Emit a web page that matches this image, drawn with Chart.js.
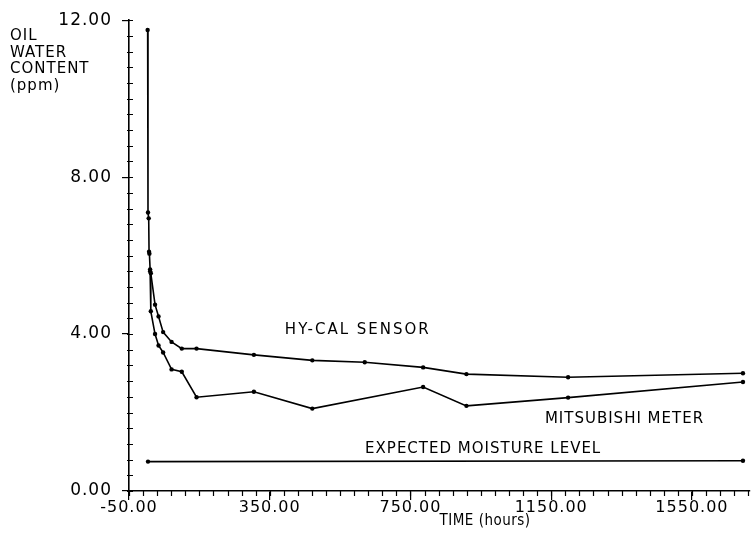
<!DOCTYPE html>
<html>
<head>
<meta charset="utf-8">
<script src="https://cdn.jsdelivr.net/npm/chart.js@4/dist/chart.umd.min.js"></script>
<style>
  html, body { margin: 0; padding: 0; background: #fff; }
  #wrap { width: 753px; height: 538px; }
</style>
</head>
<body>
<div id="wrap"><canvas id="chart" width="753" height="538"></canvas></div>
<script>
// values (hours, ppm)
const hycalHours = [3, 4, 6, 7, 8, 10, 12, 24, 34, 47, 71, 100, 142, 305, 471, 620, 786, 909, 1198, 1695];
const hycalPpm   = [11.75, 7.1, 6.95, 6.1, 6.05, 5.65, 5.55, 4.75, 4.45, 4.05, 3.8, 3.63, 3.63, 3.47, 3.33, 3.28, 3.15, 2.98, 2.9, 3.0];

const mitsuHours = [10, 12, 24, 34, 47, 71, 100, 142, 305, 471, 786, 909, 1198, 1695];
const mitsuPpm   = [5.6, 4.58, 4.0, 3.71, 3.53, 3.1, 3.04, 2.39, 2.53, 2.1, 2.65, 2.17, 2.38, 2.78];

const expectedHours = [4, 1695];
const expectedPpm   = [0.75, 0.77];

const xTicks = [-50, 350, 750, 1150, 1550];
const yTicks = [0, 4, 8, 12];
const xMinorStep = 40;
const yMinorStep = 0.4;

const seriesLabels = [
  { text: 'HY-CAL SENSOR', x: 393, y: 4.09, spacing: 2 },
  { text: 'MITSUBISHI METER', x: 1132, y: 1.83, spacing: 1 },
  { text: 'EXPECTED MOISTURE LEVEL', x: 621, y: 1.07, spacing: 1 }
];
const yTitle = ['OIL', 'WATER', 'CONTENT', '(ppm)'];
const xTitle = 'TIME (hours)';

const FONT = '"DejaVu Sans", sans-serif';

const toPts = (xs, ys) => xs.map((x, i) => ({ x: x, y: ys[i] }));

const lineStyle = {
  borderColor: '#000',
  backgroundColor: '#000',
  borderWidth: 1.6,
  pointRadius: 2.2,
  pointHoverRadius: 2.2,
  pointBorderWidth: 0,
  tension: 0,
  fill: false
};

// minor ticks, titles and in-plot labels
const decorPlugin = {
  id: 'decor',
  beforeDraw(chart) {
    chart.ctx.letterSpacing = '1px';
  },
  afterDraw(chart) {
    const ctx = chart.ctx;
    const xs = chart.scales.x, ys = chart.scales.y;
    const area = chart.chartArea;
    ctx.save();
    ctx.strokeStyle = '#000';
    ctx.lineWidth = 1.2;
    ctx.beginPath();
    for (let v = xs.min; v <= xs.max + 0.01; v += xMinorStep) {
      const px = Math.round(xs.getPixelForValue(v)) + 0.5;
      ctx.moveTo(px, area.bottom);
      ctx.lineTo(px, area.bottom + 5);
    }
    for (let v = ys.min; v <= ys.max + 0.001; v += yMinorStep) {
      const py = Math.round(ys.getPixelForValue(v)) + 0.5;
      ctx.moveTo(area.left - 2, py);
      ctx.lineTo(area.left + 4, py);
    }
    ctx.stroke();

    ctx.fillStyle = '#000';
    ctx.letterSpacing = '1px';
    ctx.font = '15px ' + FONT;
    ctx.textAlign = 'left';
    ctx.textBaseline = 'top';
    yTitle.forEach((t, i) => ctx.fillText(t, 10, 29 + i * 16.5));

    ctx.textAlign = 'center';
    ctx.letterSpacing = '0.5px';
    ctx.font = '15px "DejaVu Sans Condensed", ' + FONT;
    ctx.fillText(xTitle, xs.getPixelForValue(962), area.bottom + 23);

    ctx.textAlign = 'left';
    ctx.textBaseline = 'middle';
    ctx.font = '15px ' + FONT;
    seriesLabels.forEach(l => {
      ctx.letterSpacing = l.spacing + 'px';
      ctx.fillText(l.text, xs.getPixelForValue(l.x), ys.getPixelForValue(l.y));
    });
    ctx.restore();
  }
};

new Chart(document.getElementById('chart'), {
  type: 'line',
  data: {
    datasets: [
      Object.assign({ label: 'HY-CAL SENSOR', data: toPts(hycalHours, hycalPpm) }, lineStyle),
      Object.assign({ label: 'MITSUBISHI METER', data: toPts(mitsuHours, mitsuPpm) }, lineStyle),
      Object.assign({ label: 'EXPECTED MOISTURE LEVEL', data: toPts(expectedHours, expectedPpm) }, lineStyle)
    ]
  },
  options: {
    responsive: false,
    animation: false,
    events: [],
    layout: { padding: { top: 18, right: 3, left: 0, bottom: 0 } },
    plugins: { legend: { display: false }, tooltip: { enabled: false } },
    scales: {
      x: {
        type: 'linear',
        min: -50,
        max: 1715,
        afterBuildTicks: s => { s.ticks = xTicks.map(v => ({ value: v })); },
        afterFit: s => { s.height = 47; },
        grid: { drawOnChartArea: false, drawTicks: true, tickLength: 9, color: '#000', lineWidth: 1.2 },
        border: { display: true, color: '#000', width: 1.6 },
        ticks: {
          color: '#000',
          padding: -2,
          maxRotation: 0,
          autoSkip: false,
          font: { family: FONT, size: 16 },
          callback: v => Number(v).toFixed(2)
        }
      },
      y: {
        type: 'linear',
        min: 0,
        max: 12,
        afterBuildTicks: s => { s.ticks = yTicks.map(v => ({ value: v })); },
        afterFit: s => { s.width = 129; },
        grid: { drawOnChartArea: false, drawTicks: true, tickLength: 7, color: '#000', lineWidth: 1.2 },
        border: { display: true, color: '#000', width: 1.6 },
        ticks: {
          color: '#000',
          padding: 10,
          font: { family: FONT, size: 17 },
          callback: v => Number(v).toFixed(2)
        }
      }
    }
  },
  plugins: [decorPlugin]
});
</script>
</body>
</html>
